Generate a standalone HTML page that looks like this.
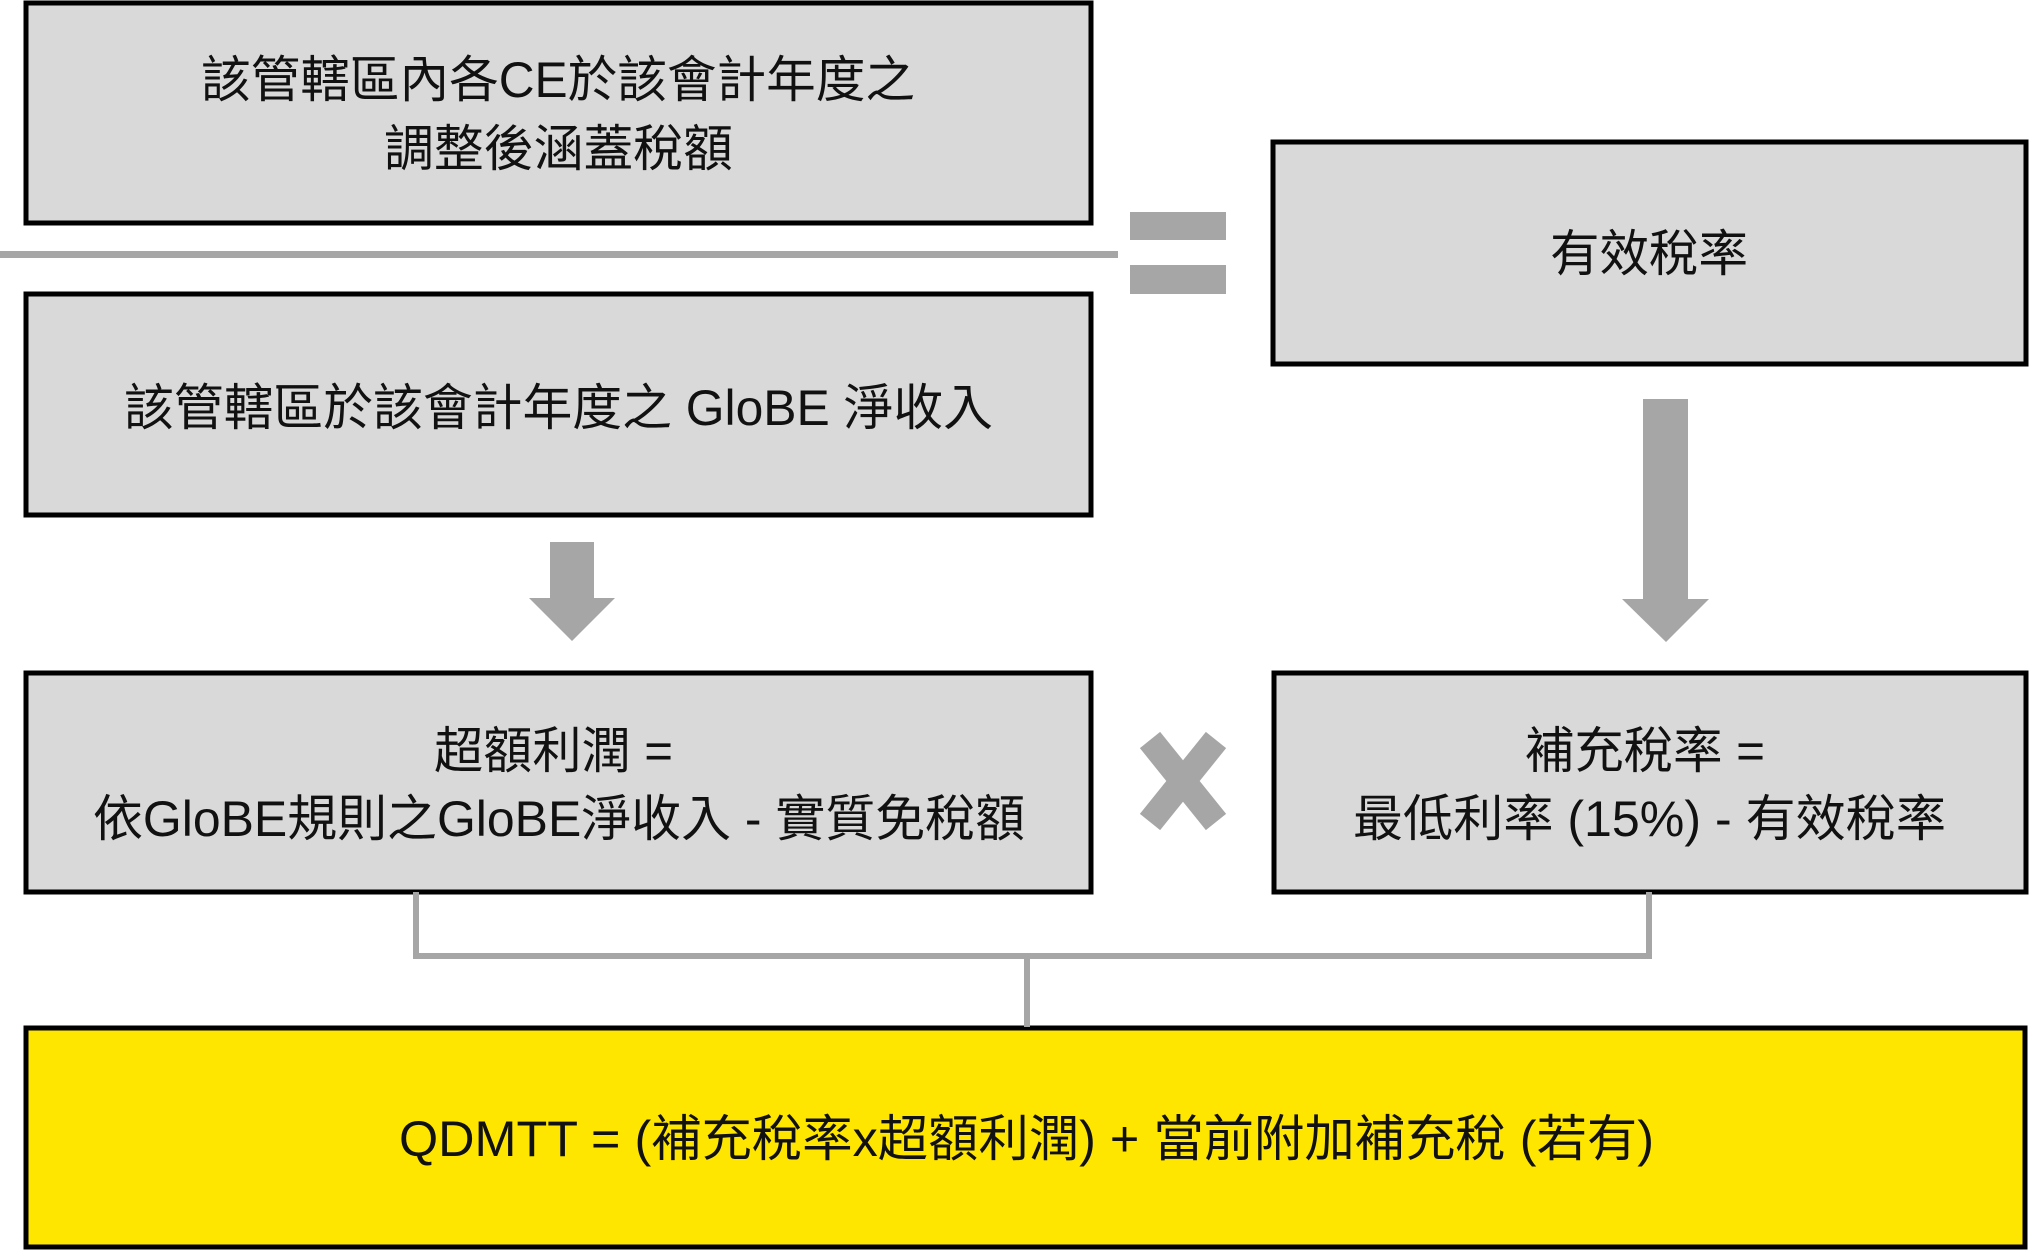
<!DOCTYPE html>
<html><head><meta charset="utf-8"><style>
html,body{margin:0;padding:0;background:#fff;}
svg{display:block;}
text{font-family:"Liberation Sans","Noto Sans CJK TC",sans-serif;font-size:50px;fill:#111;}
</style></head><body>
<svg width="2030" height="1251" viewBox="0 0 2030 1251" xmlns="http://www.w3.org/2000/svg">
<g stroke="#000" stroke-width="5" fill="#d9d9d9">
<rect x="26" y="3" width="1065" height="220"/>
<rect x="26" y="294" width="1065" height="221"/>
<rect x="1273" y="142" width="753" height="222"/>
<rect x="26" y="673" width="1065" height="219"/>
<rect x="1274" y="673" width="752" height="219"/>
<rect x="26" y="1028" width="1999" height="219" fill="#ffe600"/>
</g>
<rect x="0" y="251" width="1118" height="7" fill="#a6a6a6"/>
<rect x="1130" y="212" width="96" height="28" fill="#a6a6a6"/>
<rect x="1130" y="265" width="96" height="29" fill="#a6a6a6"/>
<polygon points="550,542 594,542 594,598 615,598 572,641 529,598 550,598" fill="#a6a6a6"/>
<polygon points="1643,399 1688,399 1688,599 1709,599 1666,642 1622,599 1643,599" fill="#a6a6a6"/>
<g stroke="#a6a6a6" stroke-width="26" stroke-linecap="butt">
<line x1="1150" y1="740" x2="1216" y2="822"/>
<line x1="1216" y1="740" x2="1150" y2="822"/>
</g>
<polyline points="416,892 416,956 1649,956 1649,892" fill="none" stroke="#a6a6a6" stroke-width="6"/>
<line x1="1027" y1="956" x2="1027" y2="1027" stroke="#a6a6a6" stroke-width="6"/>
<text x="201" y="97" textLength="714" lengthAdjust="spacingAndGlyphs">該管轄區內各CE於該會計年度之</text>
<text x="384" y="166" textLength="349" lengthAdjust="spacingAndGlyphs">調整後涵蓋稅額</text>
<text x="124" y="425" textLength="869" lengthAdjust="spacingAndGlyphs">該管轄區於該會計年度之 GloBE 淨收入</text>
<text x="1550" y="271" textLength="198" lengthAdjust="spacingAndGlyphs">有效稅率</text>
<text x="434" y="768" textLength="239" lengthAdjust="spacingAndGlyphs">超額利潤 =</text>
<text x="93" y="836" textLength="932" lengthAdjust="spacingAndGlyphs">依GloBE規則之GloBE淨收入 - 實質免稅額</text>
<text x="1525" y="768" textLength="240" lengthAdjust="spacingAndGlyphs">補充稅率 =</text>
<text x="1353" y="836" textLength="593" lengthAdjust="spacingAndGlyphs">最低利率 (15%) - 有效稅率</text>
<text x="399" y="1156" textLength="1255" lengthAdjust="spacingAndGlyphs">QDMTT = (補充稅率x超額利潤) + 當前附加補充稅 (若有)</text>
</svg>
</body></html>
